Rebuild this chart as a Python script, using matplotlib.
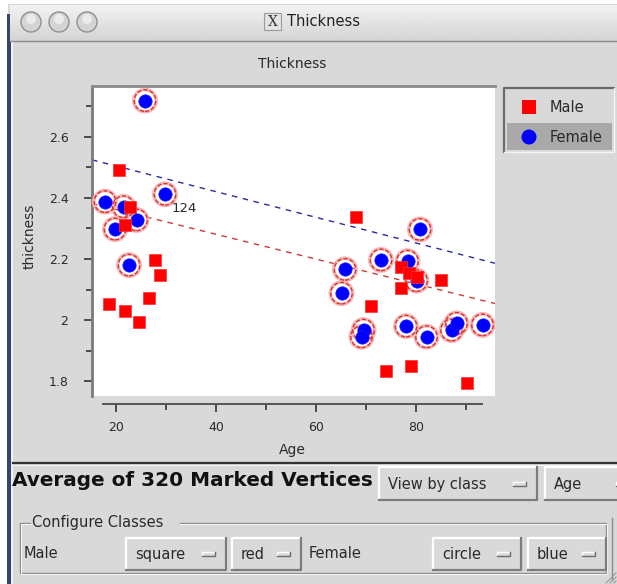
import numpy as np
import matplotlib
matplotlib.use("Agg")
import matplotlib.pyplot as plt
from matplotlib.patches import Rectangle, Circle
from matplotlib.ticker import MultipleLocator

# ---------------- data ----------------
female_age = [25.8, 17.8, 29.8, 21.5, 24.1, 19.8, 22.6, 80.8, 65.8, 73.0, 78.3, 80.1,
              65.1, 69.5, 69.1, 78.0, 82.1, 87.1, 88.1, 93.3]
female_thk = [2.719, 2.388, 2.412, 2.371, 2.328, 2.298, 2.180, 2.297, 2.166, 2.197, 2.193,
              2.129, 2.088, 1.967, 1.945, 1.980, 1.945, 1.967, 1.989, 1.984]
male_age = [20.5, 22.8, 21.8, 27.8, 28.7, 26.5, 18.6, 21.8, 24.6, 67.9, 77.0, 78.5, 80.1,
            77.0, 85.0, 70.9, 73.9, 79.0, 90.1]
male_thk = [2.492, 2.371, 2.313, 2.197, 2.148, 2.071, 2.051, 2.030, 1.994, 2.339, 2.174,
            2.155, 2.142, 2.104, 2.131, 2.046, 1.834, 1.849, 1.792]
fit_age = [15.2, 95.8]
female_fit = [2.525, 2.186]
male_fit = [2.382, 2.054]
label_point = (29.8, 2.412)
label_text = "124"
x_ticks = [20, 40, 60, 80]
y_ticks = [1.8, 2.0, 2.2, 2.4, 2.6]
y_tick_labels = ["1.8", "2", "2.2", "2.4", "2.6"]
classes = ["Male", "Female"]
class_shapes = ["square", "circle"]
class_colors = ["red", "blue"]

W, H = 617, 584
fig = plt.figure(figsize=(W / 100, H / 100), dpi=100)
fig.patch.set_facecolor("white")
TXT = "#2a2a2a"
GRAY = "#d9d9d9"
FONT = "DejaVu Sans"

# background / chrome axes in pixel coordinates
bg = fig.add_axes([0, 0, 1, 1], zorder=0)
bg.set_xlim(0, W)
bg.set_ylim(H, 0)
bg.axis("off")

# window body
bg.add_patch(Rectangle((8, 4), W - 8, H - 4, facecolor=GRAY, edgecolor="none"))
bg.add_patch(Rectangle((7, 14), 4, H - 14, facecolor="#34456e", edgecolor="none"))
bg.add_patch(Rectangle((11, 42), 2, H - 42, facecolor="#f2f2f2", edgecolor="none"))
# title bar gradient
grad = np.linspace(0.95, 0.83, 50).reshape(-1, 1)
bg.imshow(grad, cmap="gray", vmin=0, vmax=1, extent=[10, W, 41, 5], aspect="auto", zorder=1)
bg.plot([10, W], [41, 41], color="#8c8c8c", lw=1, zorder=2)
for cx in [31, 59, 87]:
    bg.add_patch(Circle((cx, 22), 10, facecolor="#d4d4d4", edgecolor="#8f8f8f", lw=1, zorder=3))
    bg.add_patch(Circle((cx, 19), 5, facecolor="#ececec", edgecolor="none", zorder=3))
bg.add_patch(Rectangle((264, 13), 17, 17, facecolor="#e4e4e4", edgecolor="#9a9a9a", lw=0.8, zorder=3))
bg.text(272.5, 22, "X", family="DejaVu Serif", fontsize=10, ha="center", va="center", color="#333", zorder=4)
bg.text(287, 22, "Thickness", family=FONT, fontsize=10.5, ha="left", va="center", color="#222", zorder=4)

# graph title
bg.text(292, 64, "Thickness", family=FONT, fontsize=10, ha="center", va="center", color=TXT)

# separator below graph
bg.plot([13, W], [463, 463], color="#333333", lw=1.6)
bg.plot([13, W], [465, 465], color="#f5f5f5", lw=0.8)

# ---------------- main plot ----------------
x0, x1, y0, y1 = 92, 495, 86, 396
ax = fig.add_axes([x0 / W, 1 - y1 / H, (x1 - x0) / W, (y1 - y0) / H], zorder=2)
ax.set_facecolor("white")
ax.set_xlim(15.2, 95.8)
ax.set_ylim(1.751, 2.767)

ax.plot(fit_age, female_fit, color="#2b2b9c", lw=1.0, dashes=(4, 4), zorder=2)
ax.plot(fit_age, male_fit, color="#cc3a3a", lw=1.0, dashes=(4, 4), zorder=2)

ax.scatter(female_age, female_thk, s=260, facecolors="none", edgecolors="#f2b8b8", linewidths=2.5, zorder=3)
ax.scatter(female_age, female_thk, s=240, facecolors="none", edgecolors="#e03030", linewidths=1.0,
           linestyles=(0, (3, 1.5)), zorder=3)
ax.scatter(female_age, female_thk, s=92, marker="o", facecolors="#0000ff", edgecolors="#1a1aff",
           linewidths=0.5, zorder=4)
ax.scatter(male_age, male_thk, s=76, marker="s", facecolors="#ff0000", edgecolors="#ff3030",
           linewidths=0.5, zorder=5)

ax.annotate(label_text, xy=label_point, xytext=(5, -10.5), textcoords="offset points",
            ha="left", va="center", fontsize=9.5, family=FONT, color=TXT, zorder=6)

for s in ["top", "right"]:
    ax.spines[s].set_visible(False)
ax.spines["left"].set_color("#7a7a7a")
ax.spines["left"].set_linewidth(2.0)
ax.spines["bottom"].set_position(("outward", 6))
ax.spines["bottom"].set_bounds(17.4, 93.2)
ax.spines["bottom"].set_color("#555555")
ax.spines["bottom"].set_linewidth(1.4)
# top sunken edge
ax.plot([0, 1], [1, 1], transform=ax.transAxes, color="#8a8a8a", lw=2, clip_on=False, zorder=7)

ax.set_xticks(x_ticks)
ax.set_xticklabels([str(v) for v in x_ticks])
ax.xaxis.set_minor_locator(MultipleLocator(10))
ax.set_yticks(y_ticks)
ax.set_yticklabels(y_tick_labels)
ax.yaxis.set_minor_locator(MultipleLocator(0.1))
ax.tick_params(axis="both", which="major", direction="out", length=6, width=1.2, color="#333",
               labelsize=9, labelcolor=TXT)
ax.tick_params(axis="both", which="minor", direction="out", length=4.5, width=1.2, color="#333")
ax.tick_params(axis="y", which="major", pad=11)
ax.tick_params(axis="x", which="major", pad=6)
for lab in ax.get_xticklabels() + ax.get_yticklabels():
    lab.set_family(FONT)

ax.set_xlabel("Age", family=FONT, fontsize=10, color=TXT)
ax.xaxis.set_label_coords((292 - x0) / (x1 - x0), (y1 - 443) / (y1 - y0))
ax.set_ylabel("thickness", family=FONT, fontsize=10, color=TXT)
ax.yaxis.set_label_coords((37 - x0) / (x1 - x0), (y1 - 236) / (y1 - y0))

# ---------------- legend ----------------
bg.add_patch(Rectangle((504, 88), 110, 64, facecolor=GRAY, edgecolor="none"))
bg.plot([504, 504, 614], [152, 88, 88], color="#6a6a6a", lw=1.6)
bg.plot([504, 614, 614], [152, 152, 88], color="#f4f4f4", lw=1.0)
bg.add_patch(Rectangle((507, 123), 105, 27, facecolor="#a9a9a9", edgecolor="none"))
bg.add_patch(Rectangle((522, 100), 14, 14, facecolor="#ff0000", edgecolor="none"))
bg.add_patch(Circle((529, 137), 7.5, facecolor="#0000ff", edgecolor="none"))
bg.text(550, 107.5, classes[0], family=FONT, fontsize=10.5, ha="left", va="center", color=TXT)
bg.text(550, 137, classes[1], family=FONT, fontsize=10.5, ha="left", va="center", color=TXT)

# ---------------- widgets ----------------
def button(xa, xb, ya, yb, label):
    bg.add_patch(Rectangle((xa, ya), xb - xa, yb - ya, facecolor=GRAY, edgecolor="none"))
    bg.plot([xa, xa, xb], [yb, ya, ya], color="#ffffff", lw=1.6)
    bg.plot([xa, xb, xb], [yb, yb, ya], color="#7c7c7c", lw=1.6)
    bg.text(xa + 9, (ya + yb) / 2 + 0.5, label, family=FONT, fontsize=10.5, ha="left",
            va="center", color=TXT)
    ix = xb - 24
    iy = (ya + yb) / 2
    bg.add_patch(Rectangle((ix, iy - 2), 13, 4, facecolor=GRAY, edgecolor="none"))
    bg.plot([ix, ix, ix + 13], [iy + 2, iy - 2, iy - 2], color="#ffffff", lw=1)
    bg.plot([ix, ix + 13, ix + 13], [iy + 2, iy + 2, iy - 2], color="#6c6c6c", lw=1)

bg.text(12, 481, "Average of 320 Marked Vertices", family=FONT, fontweight="bold",
        fontsize=14.4, ha="left", va="center", color="#111111")
button(379, 537, 467, 500, "View by class")
button(545, 640, 467, 500, "Age")

# configure classes group
bg.plot([30, 20, 20, 606, 606, 180], [523, 523, 573, 573, 523, 523], color="#8a8a8a", lw=1)
bg.plot([31, 21, 21, 607, 607, 180], [524, 524, 574, 574, 524, 524], color="#f6f6f6", lw=0.8)
bg.plot([612, 612], [518, 580], color="#8a8a8a", lw=1)
bg.text(32, 523, "Configure Classes", family=FONT, fontsize=10.5, ha="left", va="center", color=TXT)
bg.text(24, 554, classes[0], family=FONT, fontsize=10.5, ha="left", va="center", color=TXT)
button(126, 226, 538, 570, class_shapes[0])
button(232, 301, 538, 570, class_colors[0])
bg.text(309, 554, classes[1], family=FONT, fontsize=10.5, ha="left", va="center", color=TXT)
button(433, 521, 538, 570, class_shapes[1])
button(528, 606, 538, 570, class_colors[1])
# resize grip
for k in range(3):
    bg.plot([606 + 4 * k, 616], [583, 573 + 4 * k], color="#9a9a9a", lw=0.8)

fig.savefig("out.png", dpi=100, facecolor=fig.get_facecolor())
